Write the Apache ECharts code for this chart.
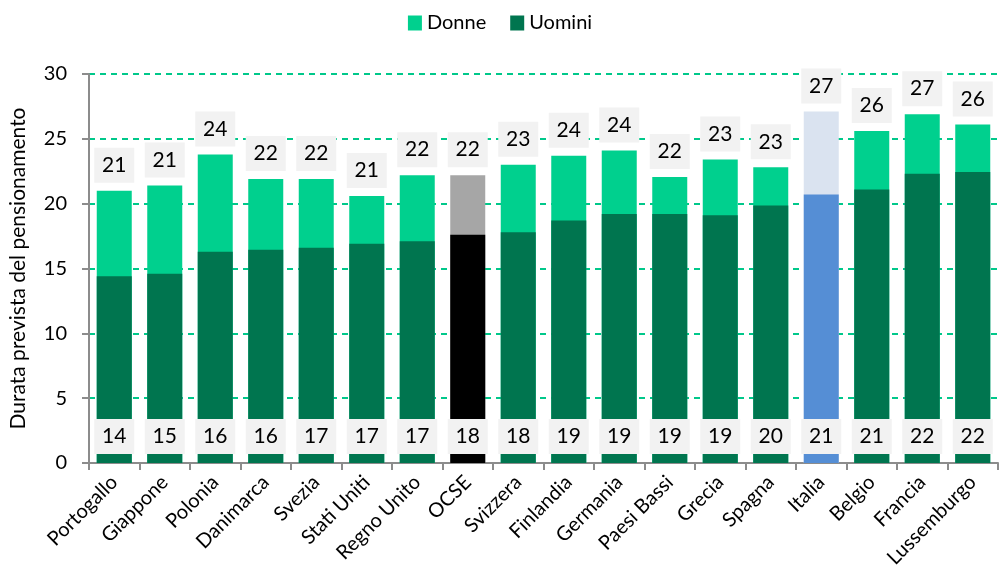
<!DOCTYPE html>
<html>
<head>
<meta charset="utf-8">
<script src="https://cdn.jsdelivr.net/npm/echarts@6/dist/echarts.min.js"></script>
<style>
  html, body { margin: 0; padding: 0; background: #fff; }
  #chart { width: 1000px; height: 584px; }
</style>
</head>
<body>
<div id="chart"></div>
<script>
// paesi
const countries = ["Portogallo", "Giappone", "Polonia", "Danimarca", "Svezia", "Stati Uniti", "Regno Unito", "OCSE", "Svizzera",
  "Finlandia", "Germania", "Paesi Bassi", "Grecia", "Spagna", "Italia", "Belgio", "Francia", "Lussemburgo"];
// anni di pensionamento previsti
const donne = [21.0, 21.4, 23.8, 21.9, 21.9, 20.6, 22.2, 22.2, 23.0, 23.7, 24.1, 22.05, 23.4, 22.8, 27.1, 25.6, 26.9, 26.1];
const uomini = [14.4, 14.6, 16.3, 16.45, 16.6, 16.9, 17.1, 17.6, 17.8, 18.7, 19.2, 19.2, 19.1, 19.85, 20.7, 21.1, 22.3, 22.45];

const FONT = "Lato";
const GREEN_LIGHT = "#00d08e";
const GREEN_DARK = "#00754f";

// colori speciali per OCSE e Italia
const special = {
  "OCSE": { donne: "#a6a6a6", uomini: "#000000" },
  "Italia": { donne: "#dae3f0", uomini: "#558ed5" },
};

function buildData(values, key) {
  return values.map((v, i) => {
    let s = special[countries[i]];
    return s ? { value: v, itemStyle: { color: s[key] } } : v;
  });
}

const labelBox = {
  show: true,
  fontFamily: FONT,
  fontSize: 21,
  color: "#000",
  backgroundColor: "#f2f2f2",
  width: 40,
  height: 35,
  lineHeight: 35,
  align: "center",
  formatter: (p) => Math.round(p.value),
};

const chart = echarts.init(document.getElementById("chart"));
chart.setOption({
  animation: false,
  legend: {
    top: 8,
    left: "center",
    itemWidth: 14,
    itemHeight: 15,
    itemGap: 24,
    icon: "rect",
    textStyle: { fontFamily: FONT, fontSize: 20, color: "#000" },
    data: ["Donne", "Uomini"],
  },
  grid: { left: 88, right: 2, top: 74, bottom: 121 },
  xAxis: {
    type: "category",
    data: countries,
    axisLine: { lineStyle: { color: "#8c8c8c", width: 2 } },
    axisTick: { show: true, length: 7, lineStyle: { color: "#8c8c8c", width: 2 } },
    axisLabel: {
      rotate: 45,
      interval: 0,
      margin: 16,
      fontFamily: FONT,
      fontSize: 20,
      color: "#000",
    },
  },
  yAxis: {
    type: "value",
    min: 0,
    max: 30,
    interval: 5,
    name: "Durata prevista del pensionamento",
    nameLocation: "middle",
    nameGap: 60,
    nameTextStyle: { fontFamily: FONT, fontSize: 21, color: "#000" },
    axisLine: { show: true, lineStyle: { color: "#8c8c8c", width: 2 } },
    axisTick: { show: true, length: 7, lineStyle: { color: "#8c8c8c", width: 2 } },
    axisLabel: { fontFamily: FONT, fontSize: 20, color: "#000", margin: 22 },
    splitLine: { lineStyle: { color: "#00c88a", type: [6, 5], width: 2 } },
  },
  series: [
    {
      name: "Donne",
      type: "bar",
      barWidth: 35,
      barGap: "-100%",
      itemStyle: { color: GREEN_LIGHT },
      data: buildData(donne, "donne"),
      label: Object.assign({}, labelBox, { position: "top", distance: 8 }),
    },
    {
      name: "Uomini",
      type: "bar",
      barWidth: 35,
      itemStyle: { color: GREEN_DARK },
      data: buildData(uomini, "uomini"),
      label: Object.assign({}, labelBox, { position: "insideBottom", distance: 9 }),
    },
  ],
});
</script>
</body>
</html>
